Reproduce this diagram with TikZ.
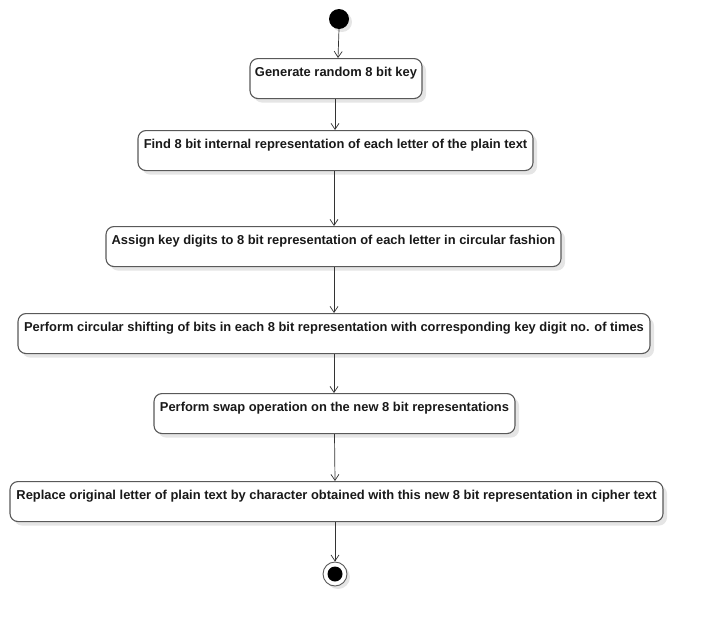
\documentclass[tikz,border=0pt]{standalone}
\usepackage{fontspec}
\setmainfont{Liberation Sans}
\usetikzlibrary{arrows.meta,shadows}
\begin{document}
\begin{tikzpicture}[x=1pt,y=-1pt,
  act/.style={draw=black!65, line width=1.1pt, fill=white, rounded corners=8pt,
    font=\bfseries\fontsize{12.9}{15}\selectfont, text=black!90, inner xsep=0pt, inner ysep=4pt,
    text height=13.5pt, text depth=18.5pt, anchor=north,
    drop shadow={shadow xshift=4pt, shadow yshift=-4pt, fill=black!10, opacity=1}},
  flow/.style={draw=black!80, line width=0.7pt, -{Straight Barb[length=6pt,width=8pt,line width=0.7pt]}}]
\useasboundingbox (0,0) rectangle (704,627);
\node[circle, fill=black, minimum size=20pt, inner sep=0pt,
  drop shadow={shadow xshift=3pt, shadow yshift=-3pt, fill=black!10, opacity=1}] (start) at (339,19) {};
\node[act, minimum width=172pt] (b1) at (336,58) {Generate random 8 bit key};
\node[act, minimum width=395pt] (b2) at (335.5,130) {Find 8 bit internal representation of each letter of the plain text};
\node[act, minimum width=455pt] (b3) at (333.5,226) {Assign key digits to 8 bit representation of each letter in circular fashion};
\node[act, minimum width=632pt] (b4) at (334,313) {Perform circular shifting of bits in each 8 bit representation with corresponding key digit no. of times};
\node[act, minimum width=361pt] (b5) at (334.5,393) {Perform swap operation on the new 8 bit representations};
\node[act, minimum width=653pt] (b6) at (336.5,481) {Replace original letter of plain text by character obtained with this new 8 bit representation in cipher text};
\node[circle, draw=black!65, line width=0.9pt, fill=white, minimum size=24pt, inner sep=0pt,
  drop shadow={shadow xshift=3pt, shadow yshift=-3pt, fill=black!10, opacity=1}] (end) at (335,574) {};
\node[circle, fill=black, minimum size=15pt, inner sep=0pt] (endin) at (end.center) {};
\draw[flow] (start.south) -- ([xshift=2pt]b1.north);
\draw[flow] ([xshift=-1pt]b1.south) -- ([xshift=-0.5pt]b2.north);
\draw[flow] ([xshift=-1.5pt]b2.south) -- ([xshift=0.5pt]b3.north);
\draw[flow] ([xshift=0.5pt]b3.south) -- (b4.north);
\draw[flow] (b4.south) -- ([xshift=-0.5pt]b5.north);
\draw[flow] (b5.south) -- ([xshift=-1.5pt]b6.north);
\draw[flow] ([xshift=-1.5pt]b6.south) -- (end.north);
\end{tikzpicture}
\end{document}
